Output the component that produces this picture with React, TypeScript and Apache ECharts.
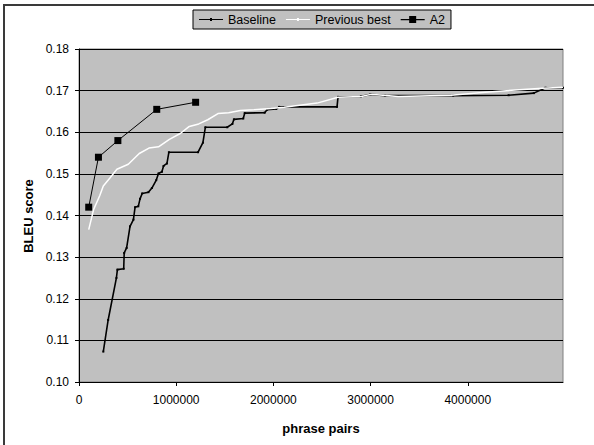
import React, { useEffect, useRef } from "react";
import * as echarts from "echarts";

const xTicks = [0, 1000000, 2000000, 3000000, 4000000];
const yTicks = [0.1, 0.11, 0.12, 0.13, 0.14, 0.15, 0.16, 0.17, 0.18];

const baseline: [number, number][] = [
  [250000, 0.1073], [300000, 0.1149], [385000, 0.125], [395000, 0.127], [460000, 0.1272],
  [465000, 0.131], [490000, 0.1322], [525000, 0.1374], [560000, 0.139], [577000, 0.142],
  [610000, 0.1422], [628000, 0.144], [650000, 0.1453], [714000, 0.1456], [750000, 0.1466],
  [795000, 0.1485], [818000, 0.1501], [853000, 0.1505], [870000, 0.1519], [905000, 0.1525],
  [925000, 0.1552], [1225000, 0.1552], [1275000, 0.1575], [1300000, 0.1612], [1525000, 0.1612],
  [1578000, 0.162], [1594000, 0.1631], [1690000, 0.1633], [1705000, 0.1646], [1910000, 0.1647],
  [1935000, 0.1654], [2030000, 0.1656], [2060000, 0.1661], [2655000, 0.1661], [2665000, 0.1685],
  [2900000, 0.1686], [3000000, 0.1691], [3150000, 0.1688], [3850000, 0.1688], [4420000, 0.1689],
  [4680000, 0.1694], [4800000, 0.1707], [4980000, 0.1707],
];

const previousBest: [number, number][] = [
  [100000, 0.1366], [150000, 0.1414], [214000, 0.1448], [250000, 0.1471], [318000, 0.149],
  [390000, 0.1511], [507000, 0.1523], [620000, 0.1549], [720000, 0.1562], [818000, 0.1565],
  [930000, 0.1583], [1042000, 0.1597], [1135000, 0.1614], [1232000, 0.162], [1325000, 0.163],
  [1430000, 0.1645], [1540000, 0.1647], [1660000, 0.1652], [1800000, 0.1654], [1974000, 0.1657],
  [2110000, 0.166], [2450000, 0.167], [2665000, 0.1684], [2906000, 0.1686], [3000000, 0.1691],
  [3286000, 0.1686], [3830000, 0.1689], [4180000, 0.1696], [4530000, 0.1702], [4770000, 0.1706],
  [4980000, 0.1708],
];

const a2: [number, number][] = [
  [100000, 0.142], [200000, 0.154], [400000, 0.158], [800000, 0.1655], [1200000, 0.1672],
];

const FONT = "'Liberation Sans', Arial, sans-serif";

const ICON_SMALL = "path://M0,3.5h24v1.2h-24z M11,2.6h2v3h-2z";
const ICON_SQUARE = "path://M0,3.5h24v1.2h-24z M8.5,0.5h7v7h-7z";

export default function App() {
  const ref = useRef<HTMLDivElement>(null);
  useEffect(() => {
    if (!ref.current) return;
    const chart = echarts.init(ref.current, undefined, { renderer: "svg" });
    chart.setOption({
      animation: false,
      backgroundColor: "#ffffff",
      textStyle: { fontFamily: FONT },
      grid: {
        left: 79,
        top: 49,
        right: 31,
        bottom: 63,
        show: true,
        backgroundColor: "#c0c0c0",
        borderColor: "#808080",
        borderWidth: 1,
      },
      legend: {
        left: 193,
        top: 10,
        padding: [3, 6, 3, 6],
        itemGap: 10,
        itemWidth: 24,
        itemHeight: 8,
        backgroundColor: "#c0c0c0",
        borderColor: "#000000",
        borderWidth: 1,
        borderRadius: 0,
        textStyle: { fontFamily: FONT, fontSize: 12.5, color: "#000" },
        data: [
          { name: "Baseline", icon: ICON_SMALL, itemStyle: { color: "#000" } },
          { name: "Previous best", icon: ICON_SMALL, itemStyle: { color: "#fff" } },
          { name: "A2", icon: ICON_SQUARE, itemStyle: { color: "#000" } },
        ],
      },
      xAxis: {
        type: "value",
        min: 0,
        max: 4980000,
        interval: 1000000,
        axisLine: { show: true, onZero: false, lineStyle: { color: "#000", width: 1 } },
        axisTick: { show: true, inside: false, length: 4, customValues: xTicks, lineStyle: { color: "#000" } },
        axisLabel: {
          customValues: xTicks,
          formatter: (v: number) => String(v),
          margin: 12,
          fontSize: 12,
          color: "#000",
          fontFamily: FONT,
        },
        splitLine: { show: false },
      },
      yAxis: {
        type: "value",
        min: 0.1,
        max: 0.18,
        interval: 0.01,
        axisLine: { show: true, lineStyle: { color: "#000", width: 1 } },
        axisTick: { show: true, inside: false, length: 4, customValues: yTicks, lineStyle: { color: "#000" } },
        axisLabel: {
          customValues: yTicks,
          formatter: (v: number) => v.toFixed(2),
          margin: 10,
          fontSize: 12,
          color: "#000",
          fontFamily: FONT,
        },
        splitLine: { show: true, lineStyle: { color: "#000", width: 1 } },
      },
      series: [
        {
          name: "Baseline",
          type: "line",
          data: baseline,
          showSymbol: true,
          symbol: "rect",
          symbolSize: 2,
          itemStyle: { color: "#000" },
          lineStyle: { color: "#000", width: 1.6 },
          z: 2,
        },
        {
          name: "Previous best",
          type: "line",
          data: previousBest,
          showSymbol: false,
          symbol: "rect",
          symbolSize: 2,
          itemStyle: { color: "#fff" },
          lineStyle: { color: "#fff", width: 1.5 },
          z: 3,
        },
        {
          name: "A2",
          type: "line",
          data: a2,
          showSymbol: true,
          symbol: "rect",
          symbolSize: 7,
          itemStyle: { color: "#000" },
          lineStyle: { color: "#000", width: 1 },
          z: 4,
        },
      ],
      graphic: [
        {
          type: "line",
          shape: { x1: 4, y1: 5, x2: 4, y2: 445 },
          style: { stroke: "#3a3a3a", lineWidth: 2 },
          silent: true,
        },
        {
          type: "line",
          shape: { x1: 3, y1: 5, x2: 594, y2: 5 },
          style: { stroke: "#3a3a3a", lineWidth: 2 },
          silent: true,
        },
        {
          type: "text",
          x: 28,
          y: 216,
          rotation: Math.PI / 2,
          style: {
            text: "BLEU score",
            fontFamily: FONT,
            fontSize: 13,
            fontWeight: "bold",
            fill: "#000",
            align: "center",
            verticalAlign: "middle",
          },
        },
        {
          type: "text",
          x: 321,
          y: 428,
          style: {
            text: "phrase pairs",
            fontFamily: FONT,
            fontSize: 13,
            fontWeight: "bold",
            fill: "#000",
            align: "center",
            verticalAlign: "middle",
          },
        },
      ],
    });
    return () => chart.dispose();
  }, []);
  return (
    <div
      ref={ref}
      style={{ position: "fixed", left: 0, top: 0, width: 594, height: 445 }}
    />
  );
}
